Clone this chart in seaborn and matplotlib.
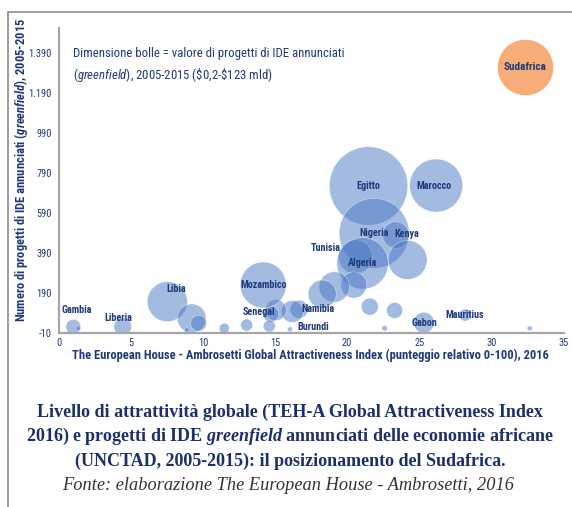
import numpy as np
import pandas as pd
import matplotlib
matplotlib.use("Agg")
import matplotlib.pyplot as plt
import seaborn as sns
from matplotlib import font_manager as fm
from matplotlib.lines import Line2D

# ---------------- data ----------------
paesi = ["Sudafrica", "Egitto", "Marocco", "Nigeria", "Kenya", "", "Tunisia", "Algeria",
         "", "", "", "", "", "Namibia", "", "", "Senegal", "", "", "Burundi",
         "Mozambico", "Libia", "", "", "", "", "Gambia", "", "Liberia", "Gabon",
         "Mauritius", "", ""]
indice = [32.36, 21.48, 26.17, 21.87, 23.37, 24.19, 20.57, 21.07,
          20.46, 19.11, 18.27, 21.57, 23.29, 16.67, 16.20, 15.06, 14.71, 13.03, 14.60, 16.03,
          14.18, 7.53, 9.22, 9.70, 8.87, 11.48, 1.01, 1.36, 4.44, 25.32,
          28.18, 22.60, 32.66]
progetti = [1317, 725, 727, 489, 480, 356, 372, 339,
            231, 221, 186, 123, 104, 110, 99, 106, 86, 31, 26, 10,
            231, 148, 65, 40, 6, 15, 23, 15, 23, 43,
            81, 15, 15]
valore = [63.6, 123.0, 56.2, 98.0, 14.2, 30.4, 23.1, 52.9,
          13.5, 18.5, 15.7, 5.8, 5.1, 6.5, 9.7, 8.8, 5.1, 2.9, 2.9, 0.5,
          42.3, 32.0, 16.4, 5.1, 0.5, 2.0, 4.3, 0.5, 6.2, 8.5,
          2.9, 0.6, 0.5]

x_ticks = [0, 5, 10, 15, 20, 25, 30, 35]
y_ticks = [-10, 190, 390, 590, 790, 990, 1190, 1390]
y_tick_labels = ["-10", "190", "390", "590", "790", "990", "1.190", "1.390"]

# label offsets in pixels (style)
label_offset = {"Kenya": (11, 1), "Tunisia": (-30, 9), "Libia": (9, 13), "Gambia": (3, 17),
                "Liberia": (-4, 9), "Senegal": (-12, 2), "Namibia": (19, 0),
                "Burundi": (23, 2), "Marocco": (-2, 0)}

# ---------------- fonts ----------------
sns.set_style("white")
names = {f.name for f in fm.fontManager.ttflist}
COND = None
STRETCH = "normal"
for n in ["Liberation Sans Narrow", "Arial Narrow", "DejaVu Sans Condensed",
          "Noto Sans Condensed", "Roboto Condensed", "Open Sans Condensed"]:
    if n in names:
        COND = n
        break
if COND is None:
    for f in fm.fontManager.ttflist:
        if str(f.stretch) in ("condensed", "semi-condensed", "extra-condensed"):
            COND = f.name
            STRETCH = f.stretch
            break
if COND is None:
    COND = "DejaVu Sans"

plt.rcParams["font.family"] = [COND, "DejaVu Sans"]
plt.rcParams["font.stretch"] = STRETCH
plt.rcParams["mathtext.fontset"] = "custom"
plt.rcParams["mathtext.it"] = f"{COND}:style=italic"
plt.rcParams["mathtext.bf"] = f"{COND}:style=italic:weight=bold"
plt.rcParams["mathtext.sf"] = "Liberation Serif:style=italic:weight=bold"

NAVY = "#1E3A7A"
BLUE = "#4876C4"
ORANGE = "#F8AC78"
GRAY = "#A6A6A6"

df = pd.DataFrame({"paese": paesi, "indice": indice, "progetti": progetti, "valore": valore})
df["sud"] = df["paese"] == "Sudafrica"

W, H = 572, 507
fig = plt.figure(figsize=(W / 100, H / 100), dpi=100)
x0, x1, ytop, ybot = 58.7, 563.5, 28.0, 333.3
ax = fig.add_axes([x0 / W, 1 - ybot / H, (x1 - x0) / W, (ybot - ytop) / H])

VMAX = 123.0
SMAX = 3186.0
sns.scatterplot(data=df[~df["sud"]], x="indice", y="progetti", size="valore",
                sizes=(0, SMAX), size_norm=(0, VMAX), color=BLUE, alpha=0.5,
                edgecolor="white", linewidth=0.5, legend=False, ax=ax, zorder=2)
sns.scatterplot(data=df[df["sud"]], x="indice", y="progetti", size="valore",
                sizes=(0, SMAX), size_norm=(0, VMAX), color=ORANGE, alpha=1.0,
                edgecolor="white", linewidth=0.5, legend=False, ax=ax, zorder=2)

for p, xv, yv in zip(paesi, indice, progetti):
    if not p:
        continue
    dx, dy = label_offset.get(p, (0, 0))
    fs = 8 if p == "Sudafrica" else 7.3
    ax.annotate(p, (xv, yv), xytext=(dx, dy), textcoords="offset pixels",
                ha="center", va="center", fontsize=fs, fontweight="bold",
                color=NAVY, zorder=5)

ax.set_xlim(0, 35)
ax.set_ylim(-10, 1513)
ax.set_xticks(x_ticks)
ax.set_xticklabels([str(t) for t in x_ticks])
ax.set_yticks(y_ticks)
ax.set_yticklabels(y_tick_labels)
ax.tick_params(axis="both", length=0, labelsize=7.5, labelcolor=NAVY)
ax.tick_params(axis="x", pad=3.5)
ax.tick_params(axis="y", pad=5)
for s in ["top", "right"]:
    ax.spines[s].set_visible(False)
for s in ["left", "bottom"]:
    ax.spines[s].set_color(GRAY)
    ax.spines[s].set_linewidth(1.6)
ax.set_xlabel("")
ax.set_ylabel("")
ax.patch.set_alpha(0)

# axis titles
fig.text(310 / W, 1 - 355 / H,
         "The European House - Ambrosetti Global Attractiveness Index (punteggio relativo 0-100), 2016",
         ha="center", va="center", fontsize=9, fontweight="bold", color=NAVY)
fig.text(21 / W, 1 - 170 / H,
         r"Numero di progetti di IDE annunciati ($\mathbf{greenfield}$), 2005-2015",
         ha="center", va="center", rotation=90, fontsize=9, fontweight="bold", color=NAVY)

# bubble-size note
fig.text(73 / W, 1 - 53 / H, "Dimensione bolle = valore di progetti di IDE annunciati",
         ha="left", va="center", fontsize=9.2, color=NAVY)
fig.text(73 / W, 1 - 75 / H, r"($\mathit{greenfield}$), 2005-2015 (\$0,2-\$123 mld)",
         ha="left", va="center", fontsize=9.2, color=NAVY)

# frame lines
fig.add_artist(Line2D([8 / W, 1], [1 - 12 / H, 1 - 12 / H], transform=fig.transFigure,
                      color="#8C8C8C", lw=1.2))
fig.add_artist(Line2D([8 / W, 8 / W], [0, 1 - 12 / H], transform=fig.transFigure,
                      color="#8C8C8C", lw=1.2))

# caption
cap = ["Livello di attrattività globale (TEH-A Global Attractiveness Index",
       r"2016) e progetti di IDE $\mathsf{greenfield}$ annunciati delle economie africane",
       "(UNCTAD, 2005-2015): il posizionamento del Sudafrica."]
for i, line in enumerate(cap):
    fig.text(290 / W, 1 - (412 + 24.5 * i) / H, line, ha="center", va="center",
             family="Liberation Serif", fontweight="bold", fontsize=13, color="#1B2F6E")
fig.text(288 / W, 1 - 486 / H, "Fonte: elaborazione The European House - Ambrosetti, 2016",
         ha="center", va="center", family="Liberation Serif", style="italic",
         fontsize=13.2, color="#333333")

fig.savefig("out.png", dpi=100)
